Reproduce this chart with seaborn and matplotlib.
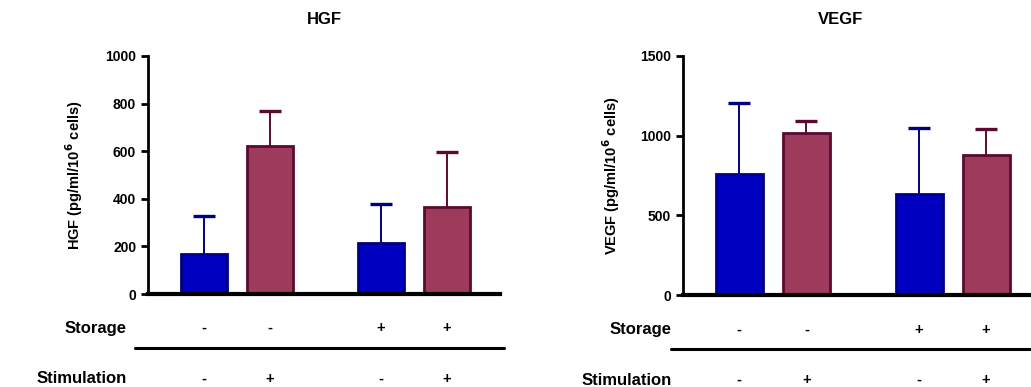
import numpy as np
import pandas as pd
import matplotlib
matplotlib.use('Agg')
import matplotlib.pyplot as plt
import seaborn as sns

# group design
storage = ['-', '-', '+', '+']
stimulation = ['-', '+', '-', '+']

# HGF values (pg/ml/10^6 cells), mean and SD
hgf_mean = [168, 622, 214, 366]
hgf_sd = [160, 147, 164, 231]

# VEGF values (pg/ml/10^6 cells), mean and SD
vegf_mean = [760, 1017, 634, 879]
vegf_sd = [445, 75, 414, 163]

FILL = {'-': '#0000C0', '+': '#9E3A5C'}
EDGE = {'-': '#000080', '+': '#5A0A30'}

sns.set_style('ticks', {'axes.edgecolor': 'black', 'text.color': 'black',
                        'axes.labelcolor': 'black', 'xtick.color': 'black',
                        'ytick.color': 'black'})
plt.rcParams['font.family'] = ['Liberation Sans', 'DejaVu Sans']
plt.rcParams['font.weight'] = 'bold'
plt.rcParams['axes.labelweight'] = 'bold'


def plot_panel(ax, mean, sd, ylabel, ymax, step, xlim, lab_x, line_x, rows_y, ylab_x):
    """One bar panel with the storage / stimulation table below."""
    pos = np.arange(len(mean)) + 0.68 * (np.array(storage) == '+')
    df = pd.DataFrame({'pos': pos, 'mean': mean, 'stim': stimulation})
    sns.barplot(data=df, x='pos', y='mean', hue='stim', palette=FILL,
                native_scale=True, width=0.7, dodge=False, legend=False,
                ax=ax, linewidth=2, saturation=1)
    # edge colour follows the stimulation group of each bar
    for p in ax.patches:
        xc = p.get_x() + p.get_width() / 2
        i = int(np.argmin(np.abs(pos - xc)))
        p.set_edgecolor(EDGE[stimulation[i]])
    for x, m, s, st in zip(pos, mean, sd, stimulation):
        eb = ax.errorbar(x, m, yerr=[[0], [s]], fmt='none', ecolor=EDGE[st],
                         elinewidth=1.4, capsize=8, capthick=2.4, zorder=1)
        # keep only the upper cap
        for cap in eb[1]:
            if np.allclose(cap.get_ydata(), m):
                cap.remove()

    ax.set_xlim(*xlim)
    ax.set_ylim(0, ymax)
    ax.set_yticks(np.arange(0, ymax + 1, step))
    ax.set_xticks([])
    ax.set_xlabel('')
    ax.set_ylabel(ylabel, fontsize=10.5)
    ax.yaxis.set_label_coords(ylab_x, 0.5)
    sns.despine(ax=ax)
    ax.spines['left'].set_linewidth(2)
    ax.spines['bottom'].set_linewidth(3)
    ax.tick_params(axis='y', width=2, length=5, labelsize=10)

    # table below the bars
    tr = ax.get_xaxis_transform()
    for x, a, b in zip(pos, storage, stimulation):
        ax.text(x, rows_y[0], a, transform=tr, ha='center', va='center', fontsize=10.5)
        ax.text(x, rows_y[1], b, transform=tr, ha='center', va='center', fontsize=10.5)
    ax.text(lab_x, rows_y[0], 'Storage', transform=ax.transAxes,
            ha='right', va='center', fontsize=12)
    ax.text(lab_x, rows_y[1], 'Stimulation', transform=ax.transAxes,
            ha='right', va='center', fontsize=12)
    ax.plot(line_x, [-0.227, -0.227], transform=ax.transAxes, color='black',
            lw=2.2, clip_on=False)


fig = plt.figure(figsize=(10.31, 3.87), dpi=100)
ax1 = fig.add_axes([0.1435, 0.2403, 0.3414, 0.615])
ax2 = fig.add_axes([0.6625, 0.2377, 0.3375, 0.6176])

plot_panel(ax1, hgf_mean, hgf_sd, 'HGF (pg/ml/10$^{\\mathbf{6}}$ cells)', 1000, 200,
           (-0.85, 4.48), -0.06, [-0.037, 1.011], (-0.143, -0.357), -0.179)
plot_panel(ax2, vegf_mean, vegf_sd, 'VEGF (pg/ml/10$^{\\mathbf{6}}$ cells)', 1500, 500,
           (-0.84, 4.35), -0.032, [-0.034, 1.0], (-0.146, -0.356), -0.175)

fig.text(324 / 1031, 1 - 20 / 387, 'HGF', ha='center', va='center', fontsize=12)
fig.text(841 / 1031, 1 - 20 / 387, 'VEGF', ha='center', va='center', fontsize=12)

fig.savefig('out.png', dpi=100)
